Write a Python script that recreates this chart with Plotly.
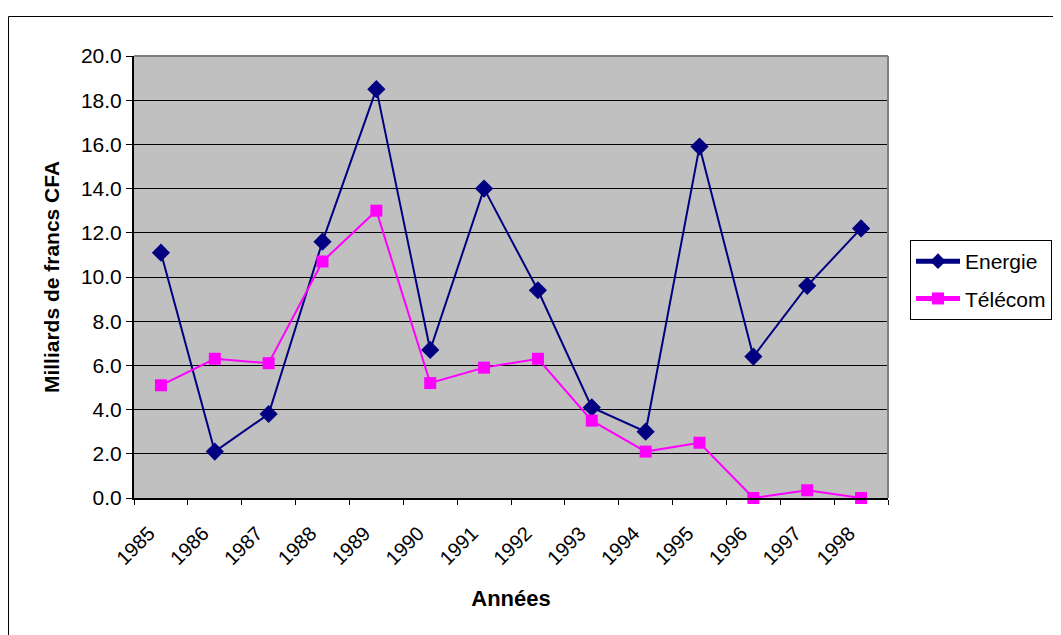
import plotly.graph_objects as go

years = ["1985", "1986", "1987", "1988", "1989", "1990", "1991",
         "1992", "1993", "1994", "1995", "1996", "1997", "1998"]
energie = [11.1, 2.1, 3.8, 11.6, 18.5, 6.7, 14.0, 9.4, 4.1, 3.0, 15.9, 6.4, 9.6, 12.2]
telecom = [5.1, 6.3, 6.1, 10.7, 13.0, 5.2, 5.9, 6.3, 3.5, 2.1, 2.5, 0.0, 0.35, 0.0]

FONT = "Liberation Sans, Arial, sans-serif"
NB = "\u00a0"

fig = go.Figure()
fig.add_trace(go.Scatter(
    x=years, y=energie, name="Energie", mode="lines+markers",
    legendgroup="e",
    line=dict(color="#000080", width=2),
    marker=dict(symbol="diamond", size=14, color="#000080"),
    cliponaxis=False,
))
fig.add_trace(go.Scatter(
    x=years, y=telecom, name="Télécom", mode="lines+markers",
    legendgroup="t",
    line=dict(color="#FF00FF", width=2),
    marker=dict(symbol="square", size=12, color="#FF00FF"),
    cliponaxis=False,
))

OFF = 8  # page body margin
L, R, T, B = 134 - OFF, 888 - OFF, 56 - OFF, 498 - OFF
W, H = 1061, 635
pw, ph = R - L, B - T

def px(x):
    return (x - OFF - L) / pw

def py(y):
    return (B - (y - OFF)) / ph

fig.update_layout(
    width=W, height=H,
    margin=dict(l=L, r=W - R, t=T, b=H - B, pad=0, autoexpand=False),
    paper_bgcolor="white",
    plot_bgcolor="#C0C0C0",
    font=dict(family=FONT, size=20, color="black"),
    showlegend=True,
    legend=dict(
        x=px(910), y=py(240), xanchor="left", yanchor="top",
        bgcolor="white", bordercolor="black", borderwidth=1,
        font=dict(family=FONT, size=21, color="black"),
        tracegroupgap=7, itemsizing="constant", itemwidth=44,
    ),
    xaxis=dict(
        type="category", range=[-0.5, 13.5], tickson="boundaries",
        tickmode="array", tickvals=years, ticktext=[y + NB * 3 for y in years],
        ticks="outside", ticklen=5, tickcolor="black", tickwidth=1,
        showline=True, linecolor="black", linewidth=2,
        showgrid=False, tickangle=-45, ticklabelstandoff=2,
        tickfont=dict(family=FONT, size=20, color="black"),
        title=dict(text="<b>Années</b>", font=dict(family=FONT, size=22), standoff=22),
    ),
    yaxis=dict(
        range=[0, 20], dtick=2, tickformat=".1f",
        ticks="outside", ticklen=6, tickcolor="black", tickwidth=1,
        showline=True, linecolor="black", linewidth=2,
        showgrid=True, gridcolor="black", gridwidth=1,
        zeroline=False,
        tickfont=dict(family=FONT, size=21, color="black"),
        title=dict(text="<b>Milliards de francs CFA</b>", font=dict(family=FONT, size=21), standoff=16),
    ),
    shapes=[
        dict(type="line", xref="paper", yref="paper", x0=0, x1=1, y0=1, y1=1,
             line=dict(color="#808080", width=2), layer="above"),
        dict(type="line", xref="paper", yref="paper", x0=1, x1=1, y0=0, y1=1,
             line=dict(color="#808080", width=2), layer="above"),
        dict(type="rect", xref="paper", yref="paper",
             x0=px(8.5), x1=px(1075), y0=py(645), y1=py(16.5),
             line=dict(color="black", width=1), layer="above"),
    ],
)

fig.write_html("out.html")
